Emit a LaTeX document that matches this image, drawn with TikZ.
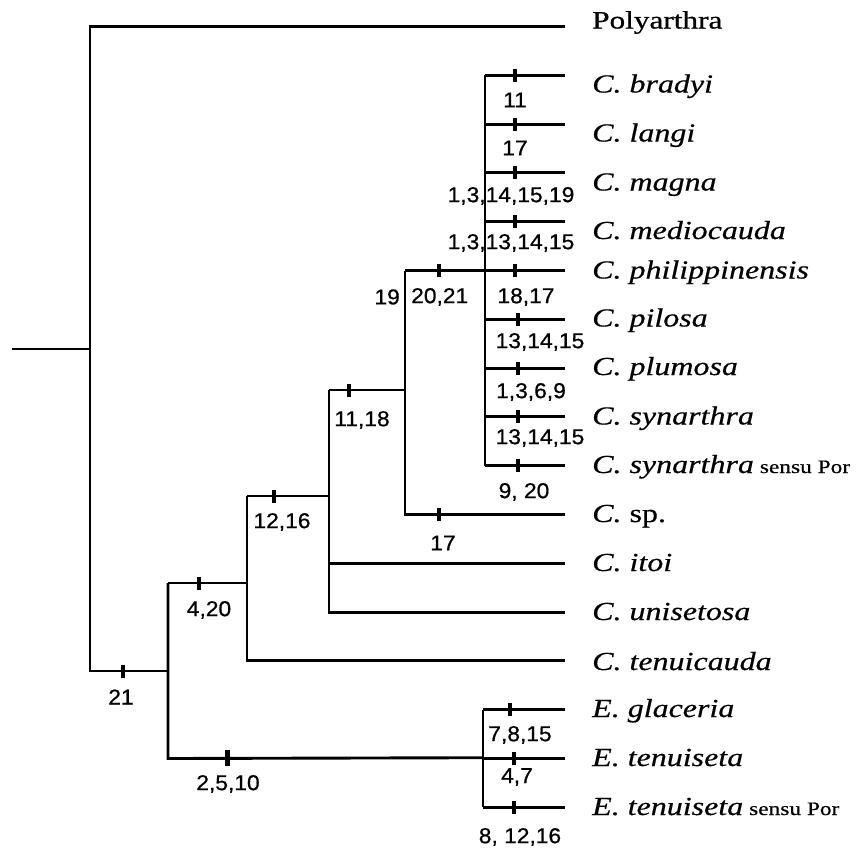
\documentclass[tikz,border=0pt]{standalone}
\usepackage{fontspec}
\setmainfont{Liberation Serif}[FakeBold=0.5]
\newfontfamily\numfont{Liberation Sans}[FakeStretch=1.06, FakeBold=0.7]
\newfontfamily\genusfont{Liberation Serif}[FakeStretch=1.25, FakeBold=0.7]
\newfontfamily\taxonfont{Liberation Serif}[FakeStretch=1.23, FakeBold=0.5]
\newcommand\sensupor{\hspace{6pt}{\fontsize{19}{19}\selectfont\upshape sensu Por}}

\begin{document}
\begin{tikzpicture}[x=1pt,y=-1pt,
  branch/.style={line width=2.9pt, line join=miter},
  tickmark/.style={fill=black, inner sep=0pt, minimum width=3.5pt, minimum height=13pt},
  bigtick/.style={fill=black, inner sep=0pt, minimum width=5pt, minimum height=16pt},
  taxon/.style={anchor=base west, inner sep=0pt, font=\fontsize{26}{26}\taxonfont\itshape},
  genus/.style={anchor=base west, inner sep=0pt, font=\fontsize{25}{25}\genusfont},
  charlabel/.style={inner sep=0pt, font=\fontsize{21.5}{21.5}\numfont}]
\useasboundingbox (0,0) rectangle (856,849);

% leaf tips
\foreach \n/\i in {polyarthra/0,bradyi/1,langi/2,magna/3,mediocauda/4,philippinensis/5,
  pilosa/6,plumosa/7,synarthra/8,synarthraP/9,csp/10,itoi/11,unisetosa/12,tenuicauda/13,
  glaceria/14,tenuiseta/15,tenuisetaP/16}
  \coordinate (t-\n) at (565,26.5+48.8*\i);

% internal nodes
\coordinate (root) at (12,349);
\coordinate (nA) at (90,349);
\coordinate (n21) at (168,671);
\coordinate (n420) at (247,583);
\coordinate (n1216) at (329,496);
\coordinate (n1118) at (405,390);
\coordinate (nC) at (485,270.5);
\coordinate (nE) at (483,757.7);

% branches
\draw[branch] (root) -- (nA);
\draw[branch] (t-polyarthra) -| (nA |- n21) -- (n21);
\draw[branch] (n21 |- n420) -- (n420);
\draw[branch] (n21 |- n420) -- (n21 |- t-tenuiseta) -- (nE);
\draw[branch] (nE |- t-glaceria) -- (nE |- t-tenuisetaP);
\foreach \n in {glaceria,tenuiseta,tenuisetaP}
  \draw[branch] (nE |- t-\n) -- (t-\n);
\draw[branch] (n420 |- n1216) -- (n420 |- t-tenuicauda) -- (t-tenuicauda);
\draw[branch] (n420 |- n1216) -- (n1216);
\draw[branch] (n1216 |- n1118) -- (n1216 |- t-unisetosa) -- (t-unisetosa);
\draw[branch] (n1216 |- t-itoi) -- (t-itoi);
\draw[branch] (n1216 |- n1118) -- (n1118);
\draw[branch] (n1118 |- nC) -- (n1118 |- t-csp) -- (t-csp);
\draw[branch] (n1118 |- nC) -- (nC);
\draw[branch] (nC |- t-bradyi) -- (nC |- t-synarthraP);
\foreach \n in {bradyi,langi,magna,mediocauda,philippinensis,pilosa,plumosa,synarthra,synarthraP}
  \draw[branch] (nC |- t-\n) -- (t-\n);

% character ticks
\node[tickmark] (k-bradyi) at (515,75.3) {};
\node[tickmark] (k-langi) at (515,124.1) {};
\node[tickmark] (k-magna) at (515,172.9) {};
\node[tickmark] (k-mediocauda) at (515,221.7) {};
\node[tickmark] (k-philippinensis) at (515,270.5) {};
\node[tickmark] (k-pilosa) at (518,319.3) {};
\node[tickmark] (k-plumosa) at (518,368.1) {};
\node[tickmark] (k-synarthra) at (518,416.9) {};
\node[tickmark] (k-synarthraP) at (518,465.7) {};
\node[tickmark] (k-nC) at (439,270.5) {};
\node[tickmark] (k-csp) at (439,514.5) {};
\node[tickmark] (k-n1118) at (349,390) {};
\node[tickmark] (k-n1216) at (274,496) {};
\node[tickmark] (k-n420) at (199,583) {};
\node[tickmark] (k-n21) at (123,671) {};
\node[bigtick] (k-E) at (227,757.7) {};
\node[tickmark] (k-glaceria) at (510,709.7) {};
\node[tickmark] (k-tenuiseta) at (514,758.5) {};
\node[tickmark] (k-tenuisetaP) at (514,807.3) {};

% character labels
\node[charlabel] (c-bradyi) at (515,100) {11};
\node[charlabel] (c-langi) at (515,148) {17};
\node[charlabel] (c-magna) at (511,196) {1,3,14,15,19};
\node[charlabel] (c-mediocauda) at (511,243) {1,3,13,14,15};
\node[charlabel] (c-philippinensis) at (526,297) {18,17};
\node[charlabel] (c-pilosa) at (540,342) {13,14,15};
\node[charlabel] (c-plumosa) at (531,392) {1,3,6,9};
\node[charlabel] (c-synarthra) at (540,438) {13,14,15};
\node[charlabel] (c-synarthraP) at (524,492) {9, 20};
\node[charlabel, anchor=east] (c-nC1) at (400,297) {19};
\node[charlabel, anchor=west] (c-nC2) at (411,297) {20,21};
\node[charlabel] (c-csp) at (443,543) {17};
\node[charlabel] (c-n1118) at (362,420) {11,18};
\node[charlabel] (c-n1216) at (282,522) {12,16};
\node[charlabel] (c-n420) at (209,610) {4,20};
\node[charlabel] (c-n21) at (121,697) {21};
\node[charlabel] (c-E) at (228,784) {2,5,10};
\node[charlabel] (c-glaceria) at (520,735) {7,8,15};
\node[charlabel] (c-tenuiseta) at (517,777) {4,7};
\node[charlabel] (c-tenuisetaP) at (520,837) {8, 12,16};

% taxon names (baselines)
\node[genus] (l-polyarthra) at (592,28.5) {Polyarthra};
\node[taxon] (l-bradyi) at (592,92.5) {C. bradyi};
\node[taxon] (l-langi) at (592,141.5) {C. langi};
\node[taxon] (l-magna) at (592,190.5) {C. magna};
\node[taxon] (l-mediocauda) at (592,239) {C. mediocauda};
\node[taxon] (l-philippinensis) at (592,278.5) {C. philippinensis};
\node[taxon] (l-pilosa) at (592,326.5) {C. pilosa};
\node[taxon] (l-plumosa) at (592,375) {C. plumosa};
\node[taxon] (l-synarthra) at (592,424.5) {C. synarthra};
\node[taxon] (l-synarthraP) at (592,473) {C. synarthra\sensupor};
\node[taxon] (l-csp) at (592,522) {C. {\upshape sp.}};
\node[taxon] (l-itoi) at (592,571) {C. itoi};
\node[taxon] (l-unisetosa) at (592,620) {C. unisetosa};
\node[taxon] (l-tenuicauda) at (592,670) {C. tenuicauda};
\node[taxon] (l-glaceria) at (592,717) {E. glaceria};
\node[taxon] (l-tenuiseta) at (592,766) {E. tenuiseta};
\node[taxon] (l-tenuisetaP) at (592,815) {E. tenuiseta\sensupor};
\end{tikzpicture}
\end{document}
